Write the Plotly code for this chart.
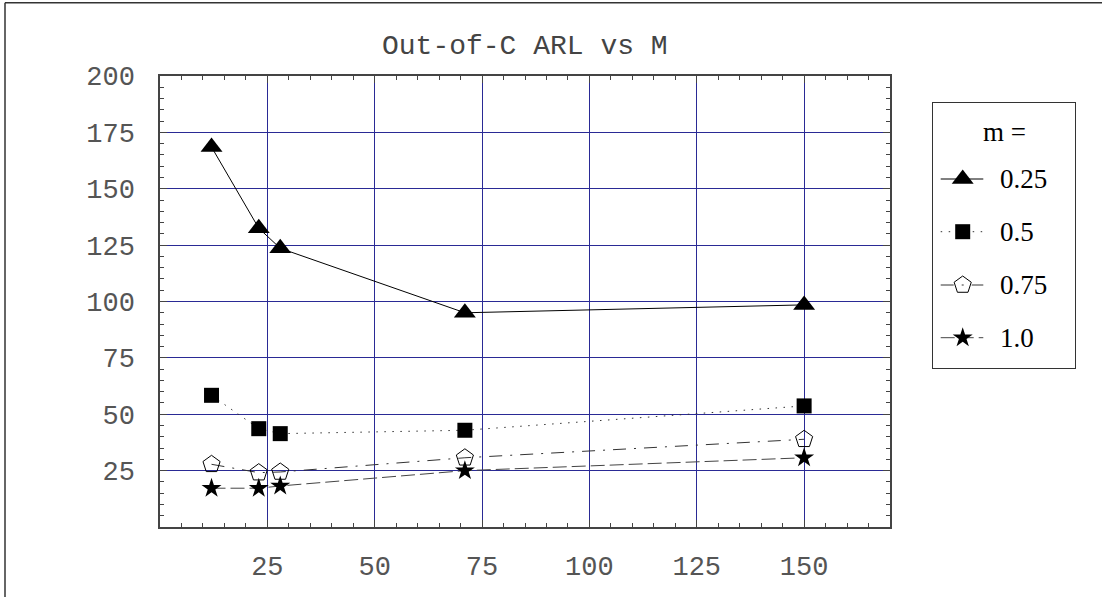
import plotly.graph_objects as go

# ---- data ----
M_values = [12, 23, 28, 71, 150]
arl_m025 = [168.5, 132.5, 123.6, 95.0, 98.5]
arl_m05 = [58.4, 43.6, 41.4, 42.9, 53.7]
arl_m075 = [27.8, 24.1, 24.4, 30.7, 38.9]
arl_m10 = [17.2, 17.2, 18.2, 25.0, 30.7]
series_names = ["0.25", "0.5", "0.75", "1.0"]
x_ticks = [25, 50, 75, 100, 125, 150]
y_ticks = [25, 50, 75, 100, 125, 150, 175, 200]
title_text = "Out-of-C ARL vs M"
legend_title = "m ="

W, H = 1102, 597
# plot area in pixels
PL, PR, PT, PB = 160, 890, 76, 527
# legend box in pixels
LL, LR, LT, LB = 933, 1075, 103, 368

styles = [
    dict(symbol="triangle-up", size=19, color="black", dash="solid", lcolor="black"),
    dict(symbol="square", size=15, color="black", dash="1.5px,6.5px", lcolor="#333"),
    dict(symbol="pentagon-open", size=18, color="black", dash="13px,8px,2px,8px", lcolor="#333"),
    dict(symbol="star", size=15, color="black", dash="14px,5px", lcolor="#444"),
]
all_series = [arl_m025, arl_m05, arl_m075, arl_m10]

fig = go.Figure()
for vals, st in zip(all_series, styles):
    fig.add_trace(go.Scatter(
        x=M_values, y=vals, mode="lines+markers", showlegend=False,
        line=dict(color=st["lcolor"], width=1, dash=st["dash"]),
        marker=dict(symbol=st["symbol"], size=st["size"], color=st["color"],
                    line=dict(width=1 if "open" in st["symbol"] else 0, color="black")),
        xaxis="x", yaxis="y"))

# custom legend drawn on a pixel-unit helper axis
row_y = [179, 231.7, 285, 337.7]
for name, st, ry in zip(series_names, styles, row_y):
    fig.add_trace(go.Scatter(
        x=[940.7, 983.3], y=[ry, ry], mode="lines", showlegend=False,
        line=dict(color=st["lcolor"], width=1, dash=st["dash"]),
        xaxis="x2", yaxis="y2", hoverinfo="skip"))
    fig.add_trace(go.Scatter(
        x=[962.7], y=[ry], mode="markers", showlegend=False,
        marker=dict(symbol=st["symbol"], size=st["size"], color=st["color"],
                    line=dict(width=1 if "open" in st["symbol"] else 0, color="black")),
        xaxis="x2", yaxis="y2", hoverinfo="skip"))
    fig.add_annotation(x=998, y=ry, xref="x2", yref="y2", text=name, showarrow=False,
                       xanchor="left", yanchor="middle",
                       font=dict(family="Liberation Serif", size=27, color="black"))
fig.add_annotation(x=1004, y=131.7, xref="x2", yref="y2", text=legend_title, showarrow=False,
                   xanchor="center", yanchor="middle",
                   font=dict(family="Liberation Serif", size=27, color="black"))

tickfont = dict(family="Liberation Mono", size=27, color="#555")
grid_color = "#2a2a95"
common = dict(showline=True, linecolor="#444", linewidth=1.5, mirror="ticks",
              ticks="inside", ticklen=7, tickcolor="#444", tickwidth=1,
              showgrid=True, gridcolor=grid_color, gridwidth=1, zeroline=False,
              tickfont=tickfont,
              minor=dict(dtick=5, tick0=0, ticks="inside", ticklen=4, tickcolor="#444",
                         tickwidth=1, showgrid=False))

fig.update_layout(
    width=W, height=H,
    margin=dict(l=0, r=0, t=0, b=0, autoexpand=False),
    paper_bgcolor="white", plot_bgcolor="white",
    xaxis=dict(domain=[PL / W, PR / W], range=[0, 170], tickmode="array",
               tickvals=x_ticks, ticktext=[str(v) for v in x_ticks],
               ticklabelstandoff=14, **common),
    yaxis=dict(domain=[1 - PB / H, 1 - PT / H], range=[0, 200], tickmode="array",
               tickvals=y_ticks, ticktext=[str(v) for v in y_ticks],
               ticklabelstandoff=18, **common),
    xaxis2=dict(domain=[LL / W, LR / W], range=[LL, LR], anchor="y2",
                showline=True, mirror=True, linecolor="#333", linewidth=1.2,
                showgrid=False, zeroline=False, showticklabels=False, ticks=""),
    yaxis2=dict(domain=[1 - LB / H, 1 - LT / H], range=[LB, LT], anchor="x2",
                showline=True, mirror=True, linecolor="#333", linewidth=1.2,
                showgrid=False, zeroline=False, showticklabels=False, ticks=""),
    showlegend=False,
)

# title
fig.add_annotation(x=(PL + PR) / 2 / W, y=1 - 47 / H, xref="paper", yref="paper",
                   text=title_text, showarrow=False, xanchor="center", yanchor="middle",
                   font=dict(family="Liberation Mono", size=28, color="#444"))

# outer frame (left and top edges visible)
fx, fy = 5 / W, 1 - 2.7 / H
fig.add_shape(type="line", xref="paper", yref="paper", x0=fx, y0=fy, x1=1.01, y1=fy,
              line=dict(color="#333", width=1.5))
fig.add_shape(type="line", xref="paper", yref="paper", x0=fx, y0=fy, x1=fx, y1=-0.01,
              line=dict(color="#333", width=1.5))

fig.write_html("out.html", config={"displayModeBar": False},
               post_script="document.body.style.margin='0';document.body.style.overflow='hidden';")
